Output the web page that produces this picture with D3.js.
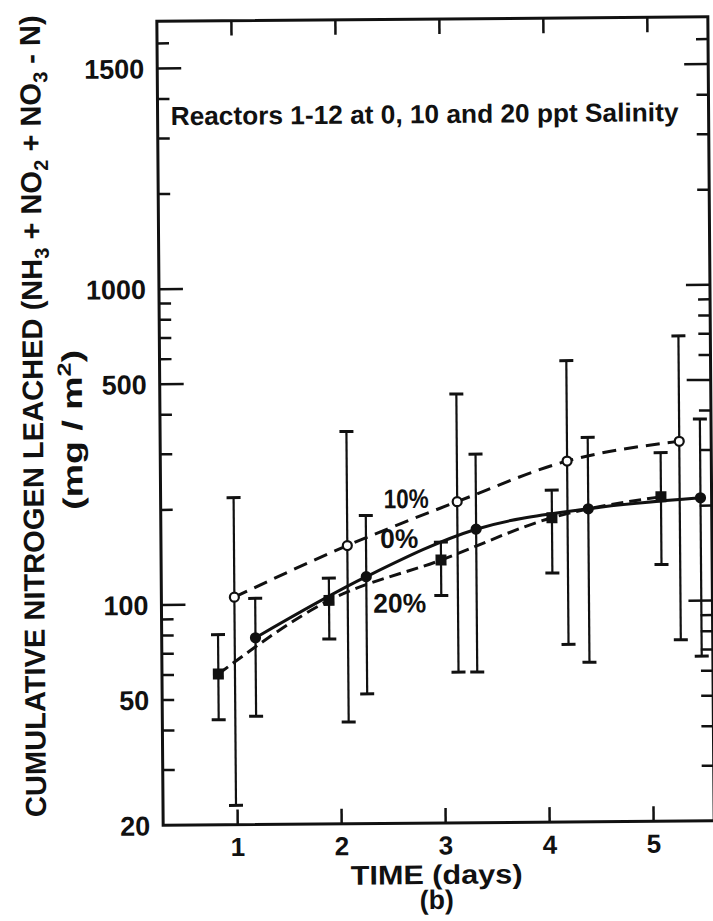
<!DOCTYPE html>
<html>
<head>
<meta charset="utf-8">
<script src="https://cdn.jsdelivr.net/npm/d3@7"></script>
<style>
  body { margin: 0; background: #fff; }
  svg { display: block; }
  text { font-family: "Liberation Sans", Arial, sans-serif; font-weight: bold; fill: #111; }
</style>
</head>
<body>
<div id="chart"></div>
<script>
const width = 713
const height = 921

// 10% salinity (open circles, dashed)
const days10 = [0.99, 2.08, 3.14, 4.2, 5.28]
const mean10 = [105, 152, 208, 278, 319]
const hi10 = [217, 349, 456, 578, 688]
const lo10 = [23, 42, 60, 73, 75]

// 0% salinity (filled circles, solid)
const days0 = [1.19, 2.26, 3.32, 4.4, 5.48]
const mean0 = [78, 121, 170, 196, 211]
const hi0 = [104, 189, 294, 330, 375]
const lo0 = [44, 51.5, 60, 64, 66.5]

// 20% salinity (filled squares, long dash)
const days20 = [0.83, 1.9, 2.98, 4.05, 5.1]
const mean20 = [60, 102, 136, 184, 213]
const hi20 = [80, 120, 155, 225, 294]
const lo20 = [43, 77, 105, 123, 130]

const xTicks = [1, 2, 3, 4, 5]
const yTickValues = [20, 50, 100, 500, 1000, 5000]
const yTickLabels = ['20', '50', '100', '500', '1000', '1500']
const yLongTicks = [100, 500, 1000, 5000]
const yShortTicks = [30, 40, 50, 60, 70, 80, 90, 200, 300, 400, 600, 700, 800, 900, 2000, 3000, 4000, 6000]

// plot frame
const plotLeft = 160, plotRight = 711, plotTop = 19, plotBottom = 823

const x = d3.scaleLinear().domain([0.288, 5.587]).range([plotLeft, plotRight])
const y = d3.scaleLog().domain([20, 7032]).range([plotBottom, plotTop])

const svg = d3.select('#chart').append('svg')
    .attr('width', width)
    .attr('height', height)

// the scanned page is a little tilted
const g = svg.append('g').attr('transform', 'rotate(-0.45 436 421)')

// squeeze a text to a given length along its baseline
function fitText(t, w, tx, ty, rot) {
    const len = t.node().getComputedTextLength()
    const k = len ? w / len : 1
    t.attr('transform', `translate(${tx},${ty}) rotate(${rot || 0}) scale(${k},1)`)
    return t
}

function cleanAxis(sel) {
    sel.select('.domain').remove()
    sel.attr('font-family', null).attr('font-size', null).attr('color', '#111')
    sel.selectAll('line').attr('stroke-width', 2.5)
}

// y ticks, left and right, pointing inward
g.append('g')
    .attr('transform', `translate(${plotLeft},0)`)
    .call(d3.axisLeft(y).tickValues(yLongTicks).tickSizeInner(-24).tickSizeOuter(0).tickFormat(''))
    .call(cleanAxis)
g.append('g')
    .attr('transform', `translate(${plotLeft},0)`)
    .call(d3.axisLeft(y).tickValues(yShortTicks).tickSizeInner(-12).tickSizeOuter(0).tickFormat(''))
    .call(cleanAxis)
g.append('g')
    .attr('transform', `translate(${plotRight},0)`)
    .call(d3.axisRight(y).tickValues(yLongTicks).tickSizeInner(-24).tickSizeOuter(0).tickFormat(''))
    .call(cleanAxis)
g.append('g')
    .attr('transform', `translate(${plotRight},0)`)
    .call(d3.axisRight(y).tickValues(yShortTicks).tickSizeInner(-12).tickSizeOuter(0).tickFormat(''))
    .call(cleanAxis)

// y labels
g.append('g')
    .attr('transform', `translate(${plotLeft},0)`)
    .call(d3.axisLeft(y).tickValues(yTickValues).tickSize(0).tickPadding(13)
        .tickFormat(d => yTickLabels[yTickValues.indexOf(d)]))
    .call(cleanAxis)
    .selectAll('text').attr('font-size', 27).attr('dy', '0.36em')

// x axis bottom and top
g.append('g')
    .attr('transform', `translate(0,${plotBottom})`)
    .call(d3.axisBottom(x).tickValues(xTicks).tickSizeInner(-15).tickSizeOuter(0).tickPadding(13).tickFormat(d3.format('d')))
    .call(cleanAxis)
    .selectAll('text').attr('font-size', 26)
g.append('g')
    .attr('transform', `translate(0,${plotTop})`)
    .call(d3.axisTop(x).tickValues(xTicks).tickSizeInner(-15).tickSizeOuter(0).tickFormat(''))
    .call(cleanAxis)

// frame
g.append('rect')
    .attr('x', plotLeft).attr('y', plotTop)
    .attr('width', plotRight - plotLeft).attr('height', plotBottom - plotTop)
    .attr('fill', 'none').attr('stroke', '#111').attr('stroke-width', 3)

const series = [
    {name: '10%', days: days10, mean: mean10, hi: hi10, lo: lo10, dash: '14,8', marker: 'open', lx: 2.65, ly: 199},
    {name: '0%', days: days0, mean: mean0, hi: hi0, lo: lo0, dash: null, marker: 'dot', lx: 2.58, ly: 149},
    {name: '20%', days: days20, mean: mean20, hi: hi20, lo: lo20, dash: '12,6', marker: 'square', lx: 2.58, ly: 93}
]

const line = d3.line()
    .curve(d3.curveMonotoneX)
    .x(d => x(d.day))
    .y(d => y(d.v))

for (let s of series) {
    let pts = s.days.map((d, i) => ({day: d, v: s.mean[i], hi: s.hi[i], lo: s.lo[i]}))

    g.append('path')
        .datum(pts)
        .attr('d', line)
        .attr('fill', 'none')
        .attr('stroke', '#111')
        .attr('stroke-width', 3)
        .attr('stroke-dasharray', s.dash)

    let bars = g.append('g').attr('stroke', '#111')
    bars.selectAll('line.bar')
        .data(pts)
        .join('line')
        .attr('class', 'bar')
        .attr('x1', d => x(d.day)).attr('x2', d => x(d.day))
        .attr('y1', d => y(d.lo)).attr('y2', d => y(d.hi))
        .attr('stroke-width', 2.2)
    bars.selectAll('line.capHi')
        .data(pts)
        .join('line')
        .attr('class', 'capHi')
        .attr('x1', d => x(d.day) - 7).attr('x2', d => x(d.day) + 7)
        .attr('y1', d => y(d.hi)).attr('y2', d => y(d.hi))
        .attr('stroke-width', 3)
    bars.selectAll('line.capLo')
        .data(pts)
        .join('line')
        .attr('class', 'capLo')
        .attr('x1', d => x(d.day) - 7).attr('x2', d => x(d.day) + 7)
        .attr('y1', d => y(d.lo)).attr('y2', d => y(d.lo))
        .attr('stroke-width', 3)

    if (s.marker == 'square') {
        g.append('g').selectAll('rect')
            .data(pts)
            .join('rect')
            .attr('x', d => x(d.day) - 5.5).attr('y', d => y(d.v) - 5.5)
            .attr('width', 11).attr('height', 11)
            .attr('fill', '#111')
    } else {
        g.append('g').selectAll('circle')
            .data(pts)
            .join('circle')
            .attr('cx', d => x(d.day)).attr('cy', d => y(d.v))
            .attr('r', s.marker == 'open' ? 4.5 : 4.5)
            .attr('fill', s.marker == 'open' ? '#fff' : '#111')
            .attr('stroke', '#111')
            .attr('stroke-width', 2.2)
    }

    let lt = g.append('text')
        .attr('font-size', 27)
        .attr('text-anchor', 'middle')
        .text(s.name)
    fitText(lt, s.name == '20%' ? 53 : (s.name == '10%' ? 45 : 38), x(s.lx), y(s.ly))
}

// annotation
let note = g.append('text')
    .attr('font-size', 26)
    .text('Reactors 1-12 at 0, 10 and 20 ppt Salinity')
fitText(note, 508, 173, 123)

// x title
let xt = g.append('text').attr('font-size', 27).attr('text-anchor', 'middle').text('TIME (days)')
fitText(xt, 172, 433, 884)
let bt = g.append('text').attr('font-size', 27).attr('text-anchor', 'middle').text('(b)')
fitText(bt, 34, 433, 909)

// y title, two lines
let yt = g.append('text').attr('font-size', 29).attr('text-anchor', 'middle')
yt.append('tspan').text('CUMULATIVE NITROGEN LEACHED  (NH')
yt.append('tspan').attr('font-size', 20).attr('dy', 7).text('3')
yt.append('tspan').attr('dy', -7).text(' + NO')
yt.append('tspan').attr('font-size', 20).attr('dy', 7).text('2')
yt.append('tspan').attr('dy', -7).text(' + NO')
yt.append('tspan').attr('font-size', 20).attr('dy', 7).text('3')
yt.append('tspan').attr('dy', -7).text(' - N)')
fitText(yt, 802, 43, 413, -90)

let yt2 = g.append('text').attr('font-size', 28).attr('text-anchor', 'middle')
yt2.append('tspan').text('(mg / m')
yt2.append('tspan').attr('font-size', 19).attr('dy', -11).text('2')
yt2.append('tspan').attr('dy', 11).text(')')
fitText(yt2, 160, 82, 427, -90)
</script>
</body>
</html>
